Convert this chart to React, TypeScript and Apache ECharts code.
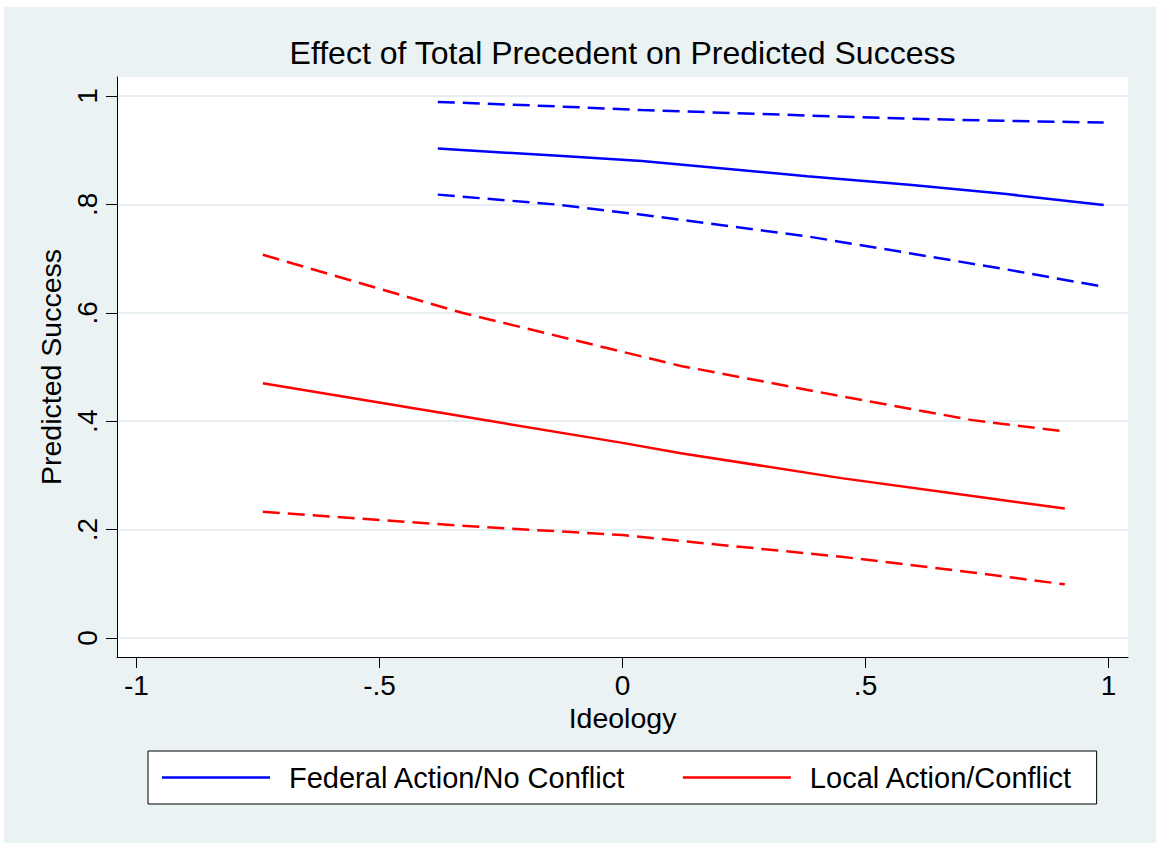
import React, { useEffect, useRef } from "react";
import * as echarts from "echarts";

const xTicks = [-1, -0.5, 0, 0.5, 1];
const xTickLabels = ["-1", "-.5", "0", ".5", "1"];
const yTicks = [0, 0.2, 0.4, 0.6, 0.8, 1];
const yTickLabels = ["0", ".2", ".4", ".6", ".8", "1"];

const fedX = [-0.38, -0.14, 0.04, 0.38, 0.59, 0.79, 0.99];
const fedFit = [0.903, 0.89, 0.88, 0.852, 0.836, 0.819, 0.799];
const fedUpper = [0.989, 0.981, 0.974, 0.964, 0.958, 0.954, 0.951];
const fedLower = [0.818, 0.8, 0.781, 0.741, 0.71, 0.68, 0.648];

const locX = [-0.74, -0.33, 0, 0.12, 0.45, 0.72, 0.91];
const locFit = [0.47, 0.409, 0.36, 0.341, 0.295, 0.262, 0.239];
const locUpper = [0.707, 0.6, 0.528, 0.502, 0.446, 0.402, 0.381];
const locLower = [0.233, 0.207, 0.19, 0.179, 0.15, 0.121, 0.099];

const FONT = "'Liberation Sans', Arial, Helvetica, sans-serif";
const BLUE = "#0000FF";
const RED = "#FF0000";

function pairs(xs: number[], ys: number[]) {
  return xs.map((x, i) => [x, ys[i]]);
}

function labelFor(ticks: number[], labels: string[], v: number) {
  const i = ticks.findIndex((t) => Math.abs(t - v) < 1e-6);
  return i >= 0 ? labels[i] : "";
}

export default function App() {
  const ref = useRef<HTMLDivElement>(null);
  useEffect(() => {
    if (!ref.current) return;
    const chart = echarts.init(ref.current, undefined, { renderer: "svg" });
    const line = (name: string, xs: number[], ys: number[], color: string, dashed: boolean) => ({
      name,
      type: "line",
      data: pairs(xs, ys),
      symbol: "none",
      showSymbol: false,
      lineStyle: { color, width: 2.5, type: dashed ? [17, 8] : "solid" },
      itemStyle: { color },
      z: 3,
    });
    chart.setOption({
      animation: false,
      backgroundColor: "#ffffff",
      textStyle: { fontFamily: FONT },
      graphic: [
        {
          type: "rect",
          z: -100,
          silent: true,
          shape: { x: 4, y: 7, width: 1152, height: 836 },
          style: { fill: "#EAF2F3" },
        },
      ],
      title: {
        text: "Effect of Total Precedent on Predicted Success",
        left: 622.5,
        top: 37,
        padding: 0,
        textAlign: "center",
        textStyle: { fontFamily: FONT, fontSize: 32, fontWeight: "normal", color: "#000" },
      },
      grid: {
        left: 117,
        right: 28,
        top: 77,
        bottom: 186,
        show: true,
        backgroundColor: "#ffffff",
        borderWidth: 0,
      },
      xAxis: {
        type: "value",
        min: -1.04,
        max: 1.04,
        name: "Ideology",
        nameLocation: "middle",
        nameGap: 44,
        nameTextStyle: { fontFamily: FONT, fontSize: 28.5, color: "#000" },
        axisLine: { show: true, onZero: false, lineStyle: { color: "#000", width: 1 } },
        axisTick: { show: true, length: 11, customValues: xTicks, lineStyle: { color: "#000", width: 1 } },
        axisLabel: {
          customValues: xTicks,
          margin: 14,
          fontFamily: FONT,
          fontSize: 28,
          color: "#000",
          formatter: (v: number) => labelFor(xTicks, xTickLabels, v),
        },
        splitLine: { show: false },
      },
      yAxis: {
        type: "value",
        min: -0.035,
        max: 1.035,
        name: "Predicted Success",
        nameLocation: "middle",
        nameGap: 50,
        nameRotate: 90,
        nameTextStyle: { fontFamily: FONT, fontSize: 28.5, color: "#000" },
        axisLine: { show: true, onZero: false, lineStyle: { color: "#000", width: 1 } },
        axisTick: { show: true, length: 11, customValues: yTicks, lineStyle: { color: "#000", width: 1 } },
        axisLabel: {
          customValues: yTicks,
          rotate: 90,
          margin: 16,
          fontFamily: FONT,
          fontSize: 28,
          color: "#000",
          formatter: (v: number) => labelFor(yTicks, yTickLabels, v),
        },
        splitLine: { show: true, lineStyle: { color: "#E6EEF1", width: 2 } },
      },
      legend: {
        data: ["Federal Action/No Conflict", "Local Action/Conflict"],
        left: 148,
        top: 751,
        orient: "horizontal",
        padding: [12, 24, 12, 14],
        itemGap: 57,
        itemWidth: 108,
        itemHeight: 2.5,
        icon: "rect",
        backgroundColor: "#ffffff",
        borderColor: "#000",
        borderWidth: 1,
        borderRadius: 0,
        textStyle: { fontFamily: FONT, fontSize: 29, color: "#000", padding: [0, 0, 0, 14] },
      },
      series: [
        line("Federal Action/No Conflict", fedX, fedFit, BLUE, false),
        line("Federal upper", fedX, fedUpper, BLUE, true),
        line("Federal lower", fedX, fedLower, BLUE, true),
        line("Local Action/Conflict", locX, locFit, RED, false),
        line("Local upper", locX, locUpper, RED, true),
        line("Local lower", locX, locLower, RED, true),
      ],
    });
    return () => chart.dispose();
  }, []);
  return (
    <div
      ref={ref}
      style={{ position: "absolute", left: 0, top: 0, width: 1156, height: 843 }}
    />
  );
}
